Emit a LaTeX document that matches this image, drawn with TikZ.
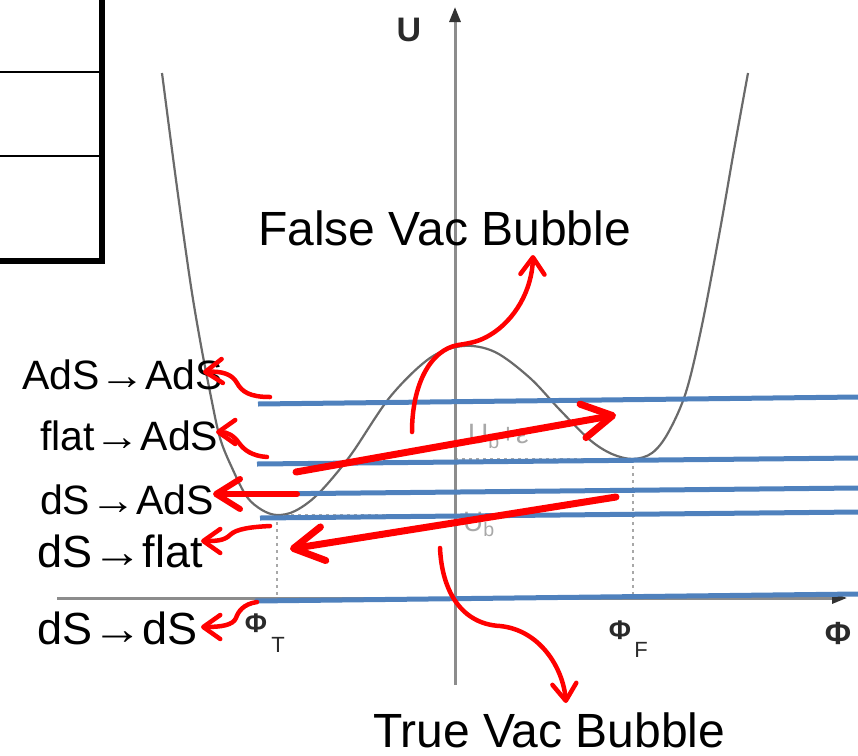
\documentclass[tikz,border=0pt]{standalone}
\usepackage{fontspec}
\setmainfont{Liberation Sans}
\usetikzlibrary{arrows.meta}
\definecolor{vblue}{HTML}{4F81BD}
\definecolor{axgray}{HTML}{8C8C8C}
\definecolor{curvegray}{HTML}{6A6A6A}
\definecolor{faintgray}{HTML}{A8A8A8}
\definecolor{labgray}{HTML}{2A2A2A}
\newcommand{\toarr}{\scalebox{1.12}[1]{→}}
\begin{document}
\begin{tikzpicture}[x=1pt,y=-1pt,
  lab/.style={anchor=base west, inner sep=0pt, font=\fontsize{41}{48}\selectfont},
  labbig/.style={anchor=base west, inner sep=0pt, font=\fontsize{45}{52}\selectfont},
  title/.style={anchor=base west, inner sep=0pt, font=\fontsize{48}{56}\selectfont},
  axlab/.style={inner sep=0pt, text=labgray, font=\bfseries\fontsize{32}{36}\selectfont},
  sublab/.style={inner sep=0pt, text=labgray, font=\fontsize{22}{26}\selectfont},
  ghost/.style={anchor=base west, inner sep=0pt, text=faintgray, font=\fontsize{28}{32}\selectfont},
  vacline/.style={vblue, line width=5pt},
  bigarrow/.style={red, line width=7pt, line cap=round, -{Straight Barb[length=30pt,width=34pt,round]}},
  curvyarrow/.style={red, line width=4.5pt, line cap=round, -{Straight Barb[length=17pt,width=24pt,round]}},
  axisline/.style={axgray, line width=3pt},
  guide/.style={faintgray, line width=1.5pt, dash pattern=on 3pt off 4pt},
  tableline/.style={black, line width=2pt},
  tablethick/.style={black, line width=6pt}
]
\useasboundingbox (0,0) rectangle (858,755);

% table fragment
\coordinate (t0) at (0,72);   \coordinate (t0r) at (102,72);
\coordinate (t1) at (0,156);  \coordinate (t1r) at (102,156);
\coordinate (tv0) at (102,0); \coordinate (tv1) at (102,264);
\coordinate (tb0) at (0,261); \coordinate (tb1) at (105,261);
\draw[tableline] (t0) -- (t0r);
\draw[tableline] (t1) -- (t1r);
\draw[tablethick] (tv0) -- (tv1);
\draw[tablethick] (tb0) -- (tb1);

% guide dotted lines
\coordinate (minT) at (277,515);
\coordinate (minTax) at (277,598);
\coordinate (minF) at (633,459);
\coordinate (minFax) at (633,598);
\coordinate (ubax) at (455,515);
\coordinate (ubeax) at (455,459);
\draw[guide] (minT) -- (minTax);
\draw[guide] (minF) -- (minFax);
\draw[guide] (minT) -- (ubax);
\draw[guide] (ubeax) -- (minF);

% axes
\coordinate (yb) at (455,685); \coordinate (yt) at (455,7);
\coordinate (xl) at (57,598);  \coordinate (xr) at (847,598);
\draw[axisline, -{Triangle[length=15pt,width=11pt,color=black!80]}] (yb) -- (yt);
\draw[axisline, -{Triangle[length=15pt,width=11pt,color=black!80]}] (xl) -- (xr);

% potential curve
\draw[curvegray, line width=2.2pt] plot[smooth, tension=0.55] coordinates {
 (162,73) (176,180) (190,280) (200,340) (210,392) (220,438) (233,470) (247,497)
 (262,510) (277,515) (295,511) (318,494) (350,456) (390,397) (430,358)
 (463,346) (495,352) (530,378) (560,410) (590,440) (612,454) (633,459)
 (652,453) (668,433) (686,392) (702,325) (720,230) (734,150) (748,73)};

% faint labels on axis
\node[ghost] (ube) at (468,443) {U\textsubscript{b}+ε};
\node[ghost] (ub) at (463,531) {U\textsubscript{b}};

% axis labels
\node[axlab, font=\bfseries\fontsize{34}{38}\selectfont] (U) at (409,30) {U};
\node[axlab] (phi) at (838,633) {Φ};
\node[axlab, font=\bfseries\fontsize{27}{30}\selectfont] (phiT) at (256,623) {Φ};
\node[sublab] (phiTs) at (278,645) {T};
\node[axlab, font=\bfseries\fontsize{27}{30}\selectfont] (phiF) at (620,630) {Φ};
\node[sublab] (phiFs) at (641,650) {F};

% vacuum energy lines
\coordinate (v1l) at (258,404); \coordinate (v1r) at (858,397);
\coordinate (v2l) at (257,464); \coordinate (v2r) at (858,458);
\coordinate (v3l) at (260,494); \coordinate (v3r) at (858,488);
\coordinate (v4l) at (260,518); \coordinate (v4r) at (858,512);
\coordinate (v5l) at (255,601); \coordinate (v5r) at (858,594);
\foreach \i in {1,...,5} { \draw[vacline] (v\i l) -- (v\i r); }

% labels
\node[lab] (l1) at (22,389) {AdS\toarr AdS};
\node[lab] (l2) at (40,450) {flat\toarr AdS};
\node[lab] (l3) at (40,514) {dS\toarr AdS};
\node[labbig] (l4) at (37,567) {dS\toarr flat};
\node[labbig] (l5) at (37,644) {dS\toarr dS};
\node[title] (fvb) at (258,245) {False Vac Bubble};
\node[title, font=\fontsize{48}{56}\selectfont] (tvb) at (373,747) {True Vac Bubble};

% big red arrows
\coordinate (aAs) at (296,472); \coordinate (aAt) at (616,415);
\coordinate (aBs) at (616,497); \coordinate (aBt) at (290,549);
\coordinate (aCs) at (297,494); \coordinate (aCt) at (213,494);
\draw[bigarrow] (aAs) -- (aAt);
\draw[bigarrow] (aBs) -- (aBt);
\draw[bigarrow, line width=6pt, -{Straight Barb[length=24pt,width=30pt,round]}] (aCs) -- (aCt);

% curvy red arrows
\coordinate (c1s) at (270,397); \coordinate (c1t) at (203,372);
\coordinate (c2s) at (267,457); \coordinate (c2t) at (216,432);
\coordinate (c3s) at (270,526); \coordinate (c3t) at (201,541);
\coordinate (c4s) at (257,602); \coordinate (c4t) at (201,627);
\coordinate (c5s) at (412,432); \coordinate (c5t) at (533,255);
\coordinate (c6s) at (440,548); \coordinate (c6t) at (566,703);
\draw[curvyarrow] (c1s) .. controls (250,397) and (242,392) .. (237,383) .. controls (232,374) and (222,371) .. (c1t);
\draw[curvyarrow] (c2s) .. controls (252,456) and (244,450) .. (239,443) .. controls (234,436) and (228,432) .. (c2t);
\draw[curvyarrow] (c3s) .. controls (250,527) and (236,529) .. (230,535) .. controls (224,541) and (215,541) .. (c3t);
\draw[curvyarrow] (c4s) .. controls (243,604) and (238,612) .. (236,618) .. controls (233,625) and (222,627) .. (c4t);
\draw[curvyarrow] (c5s) .. controls (412,385) and (430,350) .. (458,345) .. controls (472,343) and (480,341) .. (490,335) .. controls (515,320) and (532,290) .. (c5t);
\draw[curvyarrow] (c6s) .. controls (442,592) and (462,624) .. (500,626) .. controls (540,630) and (563,668) .. (c6t);
\end{tikzpicture}
\end{document}
